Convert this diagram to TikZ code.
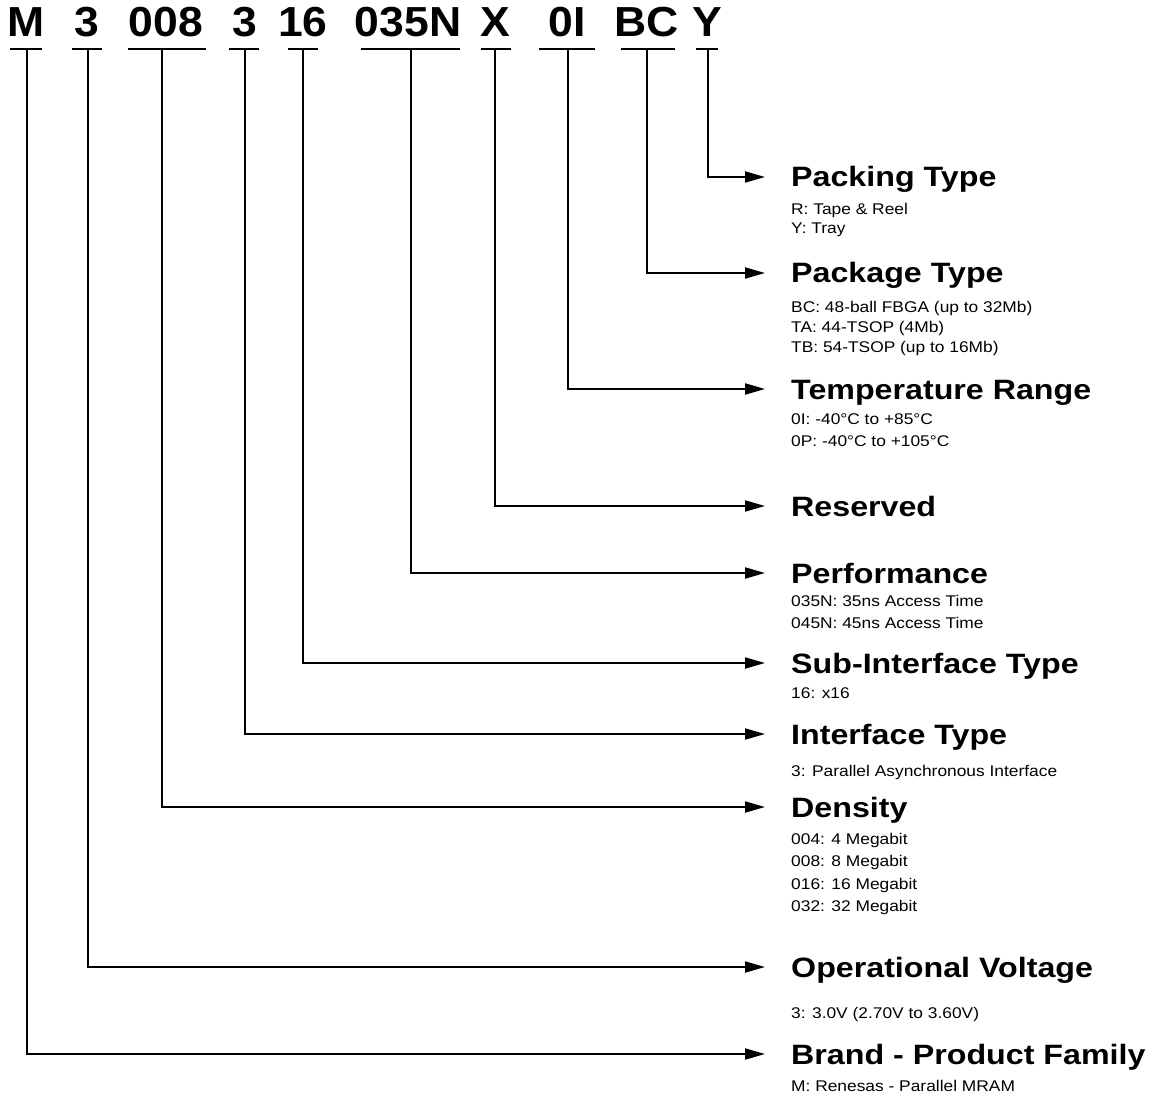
\documentclass[tikz,border=0pt]{standalone}
\usepackage{fontspec}
\setmainfont{Liberation Sans}
\newfontfamily\codefont[FakeStretch=1.06]{Liberation Sans}
\newfontfamily\labfont[FakeStretch=1.15]{Liberation Sans}
\newfontfamily\descfont[FakeStretch=1.12]{Liberation Sans}
\usetikzlibrary{arrows.meta}
\begin{document}
\begin{tikzpicture}[x=1pt,y=-1pt,
  code/.style={font=\codefont\bfseries\fontsize{42}{48}\selectfont, inner sep=0pt, anchor=base},
  lab/.style={font=\labfont\bfseries\fontsize{28}{32}\selectfont, inner sep=0pt, anchor=base west},
  desc/.style={font=\descfont\fontsize{15.5}{18}\selectfont, inner sep=0pt, anchor=base west},
  uline/.style={line width=2pt},
  conn/.style={line width=2pt, -{Triangle[length=20pt,width=11pt]}}]
\useasboundingbox (0,0) rectangle (1162,1099);

% part number characters
\node[code] (cM)   at (26,37)  {M};
\node[code] (cV)   at (87,37)  {3};
\node[code] (cD)   at (166,37) {008};
\node[code] (cI)   at (245,37) {3};
\node[code] (cS)   at (303,37) {16};
\node[code] (cP)   at (408,37) {035N};
\node[code] (cX)   at (495,37) {X};
\node[code] (cT)   at (567,37) {0I};
\node[code] (cB)   at (647,37) {BC};
\node[code] (cY)   at (707,37) {Y};

% underlines
\draw[uline] (10,49.5) -- (42,49.5);
\draw[uline] (72,49.5) -- (102,49.5);
\draw[uline] (128,49.5) -- (206,49.5);
\draw[uline] (229,49.5) -- (259,49.5);
\draw[uline] (288,49.5) -- (318,49.5);
\draw[uline] (361,49.5) -- (460,49.5);
\draw[uline] (481,49.5) -- (511,49.5);
\draw[uline] (539,49.5) -- (595,49.5);
\draw[uline] (621,49.5) -- (675,49.5);
\draw[uline] (696,49.5) -- (718,49.5);

% stem tops
\coordinate (sM) at (27,49.5);
\coordinate (sV) at (88,49.5);
\coordinate (sD) at (162,49.5);
\coordinate (sI) at (245,49.5);
\coordinate (sS) at (303,49.5);
\coordinate (sP) at (411,49.5);
\coordinate (sX) at (495,49.5);
\coordinate (sT) at (568,49.5);
\coordinate (sB) at (647,49.5);
\coordinate (sY) at (708,49.5);

% arrow ends
\coordinate (aY) at (765,177);
\coordinate (aB) at (765,273);
\coordinate (aT) at (765,389);
\coordinate (aX) at (765,506);
\coordinate (aP) at (765,573);
\coordinate (aS) at (765,663);
\coordinate (aI) at (765,734);
\coordinate (aD) at (765,807);
\coordinate (aV) at (765,967);
\coordinate (aM) at (765,1054);

% labels
\node[lab] (lY) at (791,187)  {Packing Type};
\node[lab] (lB) at (791,283)  {Package Type};
\node[lab] (lT) at (791,399)  {Temperature Range};
\node[lab] (lX) at (791,516)  {Reserved};
\node[lab] (lP) at (791,583)  {Performance};
\node[lab] (lS) at (791,673)  {Sub-Interface Type};
\node[lab] (lI) at (791,744)  {Interface Type};
\node[lab] (lD) at (791,817)  {Density};
\node[lab] (lV) at (791,977)  {Operational Voltage};
\node[lab] (lM) at (791,1064) {Brand - Product Family};

% descriptions
\node[desc] (dY1) at (791,214.5) {R: Tape \& Reel};
\node[desc] (dY2) at (791,234)   {Y: Tray};
\node[desc] (dB1) at (791,312.5) {BC: 48-ball FBGA (up to 32Mb)};
\node[desc] (dB2) at (791,332.5) {TA: 44-TSOP (4Mb)};
\node[desc] (dB3) at (791,352.5) {TB: 54-TSOP (up to 16Mb)};
\node[desc] (dT1) at (791,424)   {0I: -40°C to +85°C};
\node[desc] (dT2) at (791,446)   {0P: -40°C to +105°C};
\node[desc] (dP1) at (791,606.5) {035N: 35ns Access Time};
\node[desc] (dP2) at (791,628)   {045N: 45ns Access Time};
\node[desc] (dS1) at (791,698)   {16: x16};
\node[desc] (dI1) at (791,776)   {3: Parallel Asynchronous Interface};
\node[desc] (dD1) at (791,844.5) {004: 4 Megabit};
\node[desc] (dD2) at (791,866.5) {008: 8 Megabit};
\node[desc] (dD3) at (791,889)   {016: 16 Megabit};
\node[desc] (dD4) at (791,911)   {032: 32 Megabit};
\node[desc] (dV1) at (791,1018.5) {3: 3.0V (2.70V to 3.60V)};
\node[desc] (dM1) at (791,1091.5) {M: Renesas - Parallel MRAM};

% connectors
\draw[conn] (sY) |- (aY);
\draw[conn] (sB) |- (aB);
\draw[conn] (sT) |- (aT);
\draw[conn] (sX) |- (aX);
\draw[conn] (sP) |- (aP);
\draw[conn] (sS) |- (aS);
\draw[conn] (sI) |- (aI);
\draw[conn] (sD) |- (aD);
\draw[conn] (sV) |- (aV);
\draw[conn] (sM) |- (aM);
\end{tikzpicture}
\end{document}
